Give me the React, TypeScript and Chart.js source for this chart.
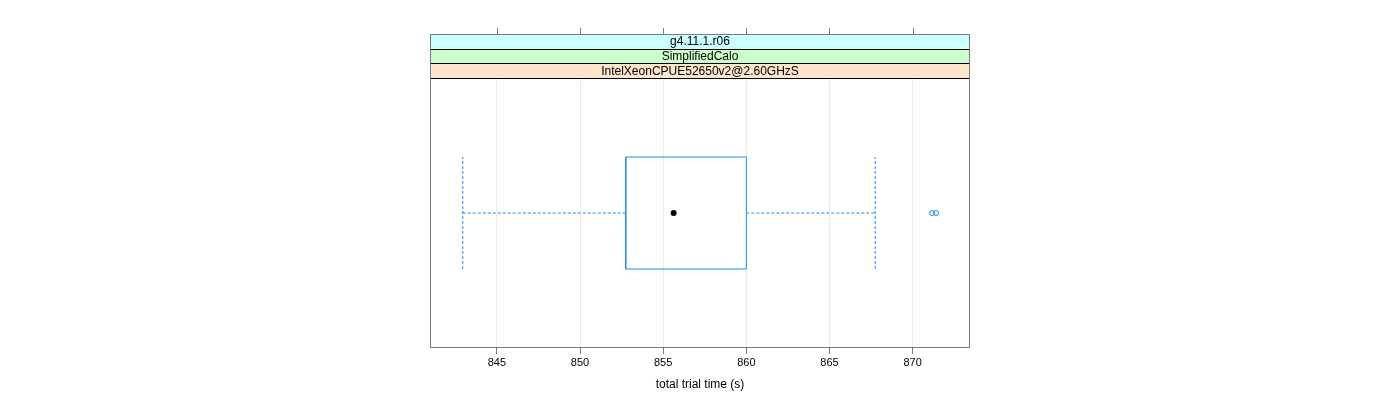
import React, { useEffect, useRef } from "react";
import { Chart, registerables } from "chart.js";

Chart.register(...registerables);

// ---- data ----
const stripLabels: string[] = ["g4.11.1.r06", "SimplifiedCalo", "IntelXeonCPUE52650v2@2.60GHzS"];
const stripColors: string[] = ["#ccffff", "#ccffcc", "#ffe5cc"];
const boxStats: number[] = [842.95, 852.75, 855.63, 860.0, 867.75]; // lower whisker, q1, median, q3, upper whisker
const outlierValues: number[] = [871.17, 871.41];
const xTicks: number[] = [845, 850, 855, 860, 865, 870];
const xTitle = "total trial time (s)";

const X_MIN = 840.98;
const X_MAX = 873.45;
const BOX_HALF = 0.415;
const BLUE = "#1a8cff";
const FONT = "'Liberation Sans', Arial, sans-serif";

export default function App() {
  const ref = useRef<HTMLCanvasElement | null>(null);

  useEffect(() => {
    if (!ref.current) return;
    const [lo, q1, med, q3, hi] = boxStats;

    const stripPlugin = {
      id: "stripPlugin",
      afterDraw(chart: any) {
        const ctx = chart.ctx;
        const a = chart.chartArea;
        const xs = chart.scales.x;
        const stripH = 14.6;
        const top = a.top - stripH * stripLabels.length;
        ctx.save();
        // strips
        stripLabels.forEach((lab, i) => {
          const y0 = top + i * stripH;
          ctx.fillStyle = stripColors[i];
          ctx.fillRect(a.left, y0, a.right - a.left, stripH);
          ctx.strokeStyle = "#000";
          ctx.lineWidth = 1;
          ctx.strokeRect(a.left + 0.5, Math.round(y0) + 0.5, a.right - a.left - 1, Math.round(stripH));
          ctx.fillStyle = "#000";
          ctx.font = `12px ${FONT}`;
          ctx.textAlign = "center";
          ctx.textBaseline = "middle";
          ctx.fillText(lab, (a.left + a.right) / 2, y0 + stripH / 2 + 0.5);
        });
        // outer border
        ctx.strokeStyle = "#7a7a7a";
        ctx.lineWidth = 1;
        ctx.strokeRect(a.left + 0.5, Math.round(top) + 0.5, a.right - a.left - 1, a.bottom - Math.round(top) - 1);
        // top ticks
        xTicks.forEach((v) => {
          const px = Math.round(xs.getPixelForValue(v)) + 0.5;
          ctx.beginPath();
          ctx.moveTo(px, Math.round(top) - 6);
          ctx.lineTo(px, Math.round(top));
          ctx.stroke();
        });
        ctx.restore();
      },
    };

    const dashed = { borderColor: BLUE, borderWidth: 1, borderDash: [3, 2], pointRadius: 0, fill: false };

    const chart = new Chart(ref.current, {
      type: "line",
      data: {
        datasets: [
          {
            label: "box",
            data: [
              { x: q1, y: -BOX_HALF },
              { x: q3, y: -BOX_HALF },
              { x: q3, y: BOX_HALF },
              { x: q1, y: BOX_HALF },
              { x: q1, y: -BOX_HALF },
            ],
            borderColor: BLUE,
            borderWidth: 1,
            pointRadius: 0,
            fill: false,
          },
          { label: "wl", data: [{ x: lo, y: 0 }, { x: q1, y: 0 }], ...dashed },
          { label: "wh", data: [{ x: q3, y: 0 }, { x: hi, y: 0 }], ...dashed },
          { label: "cl", data: [{ x: lo, y: -BOX_HALF }, { x: lo, y: BOX_HALF }], ...dashed },
          { label: "ch", data: [{ x: hi, y: -BOX_HALF }, { x: hi, y: BOX_HALF }], ...dashed },
          {
            label: "median",
            data: [{ x: med, y: 0 }],
            showLine: false,
            pointRadius: 3,
            pointBackgroundColor: "#000",
            pointBorderColor: "#000",
            pointBorderWidth: 0,
          },
          {
            label: "outliers",
            data: outlierValues.map((v) => ({ x: v, y: 0 })),
            showLine: false,
            pointRadius: 2.5,
            pointBackgroundColor: "rgba(0,0,0,0)",
            pointBorderColor: BLUE,
            pointBorderWidth: 1,
          },
        ],
      } as any,
      options: {
        animation: false,
        responsive: false,
        maintainAspectRatio: false,
        layout: { padding: { left: 430, right: 430, top: 78, bottom: 0 } },
        plugins: { legend: { display: false }, tooltip: { enabled: false } },
        scales: {
          x: {
            type: "linear",
            min: X_MIN,
            max: X_MAX,
            afterBuildTicks: (scale: any) => {
              scale.ticks = xTicks.map((v) => ({ value: v }));
            },
            afterFit: (scale: any) => {
              scale.height = 52;
            },
            ticks: { color: "#000", font: { family: FONT, size: 11 }, padding: 2, maxRotation: 0 },
            grid: { color: "#ebebeb", tickColor: "#7a7a7a", tickLength: 6, lineWidth: 1 },
            border: { display: false },
            title: { display: true, text: xTitle, color: "#000", font: { family: FONT, size: 12 }, padding: { top: 6, bottom: 8 } },
          },
          y: { type: "linear", min: -1, max: 1, display: false },
        },
      } as any,
      plugins: [stripPlugin],
    });
    return () => chart.destroy();
  }, []);

  return (
    <div style={{ position: "fixed", left: 0, top: 0, width: 1400, height: 400, background: "#fff" }}>
      <canvas ref={ref} width={1400} height={400} style={{ width: 1400, height: 400 }} />
    </div>
  );
}
